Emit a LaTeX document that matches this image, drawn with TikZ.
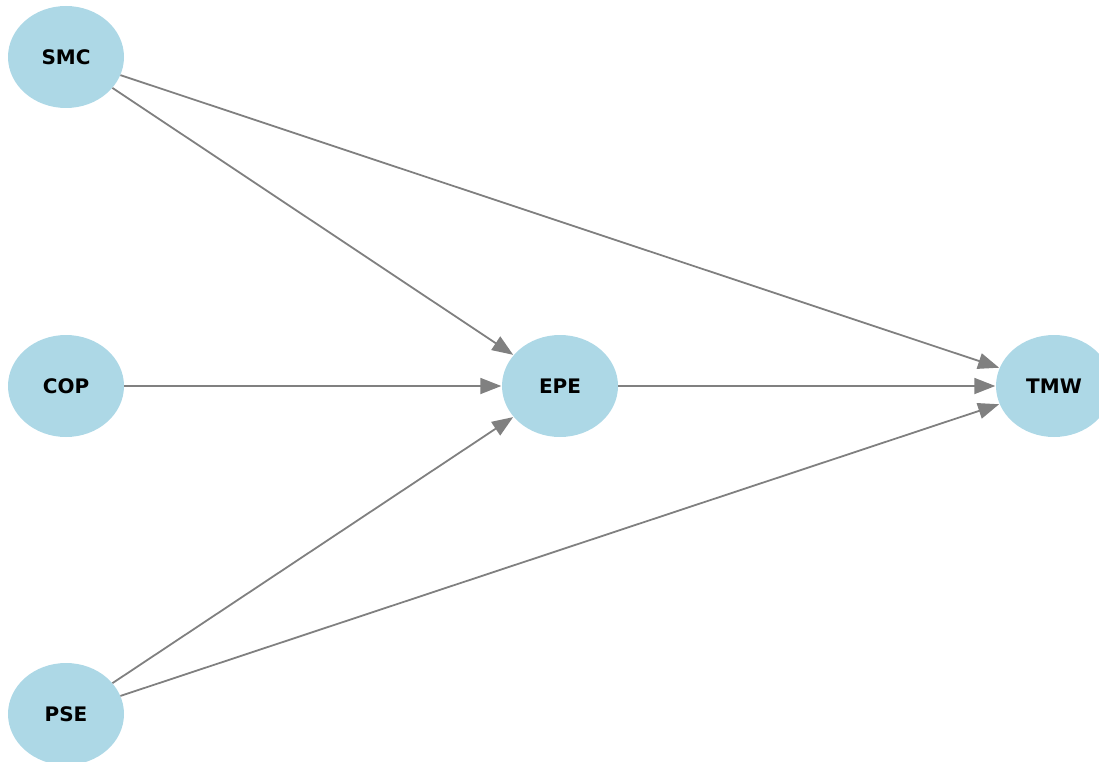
\documentclass[tikz,border=0pt]{standalone}
\usepackage{fontspec}
\setmainfont{DejaVu Sans}
\usetikzlibrary{arrows.meta,shapes.geometric}
\definecolor{nodeblue}{HTML}{ADD8E6}
\definecolor{edgegray}{HTML}{808080}
\begin{document}
\begin{tikzpicture}[x=1pt,y=-1pt,
  var/.style={ellipse,fill=nodeblue,minimum width=116pt,minimum height=102pt,inner sep=0pt,font=\fontsize{20}{22}\selectfont\bfseries},
  link/.style={draw=edgegray,line width=1.8pt,-{Triangle[length=21pt,width=16pt]},shorten >=0.5pt}]
\useasboundingbox (0,0) rectangle (1099,762);
\begin{scope}
\clip (0,0) rectangle (1099,762);
\node[var] (SMC) at (66,57) {SMC};
\node[var] (COP) at (66,386) {COP};
\node[var] (PSE) at (66,714) {PSE};
\node[var] (EPE) at (560,386) {EPE};
\node[var] (TMW) at (1054,386) {TMW};
\end{scope}
\draw[link] (SMC) -- (EPE);
\draw[link] (SMC) -- (TMW);
\draw[link] (COP) -- (EPE);
\draw[link] (PSE) -- (EPE);
\draw[link] (PSE) -- (TMW);
\draw[link] (EPE) -- (TMW);
\end{tikzpicture}
\end{document}
